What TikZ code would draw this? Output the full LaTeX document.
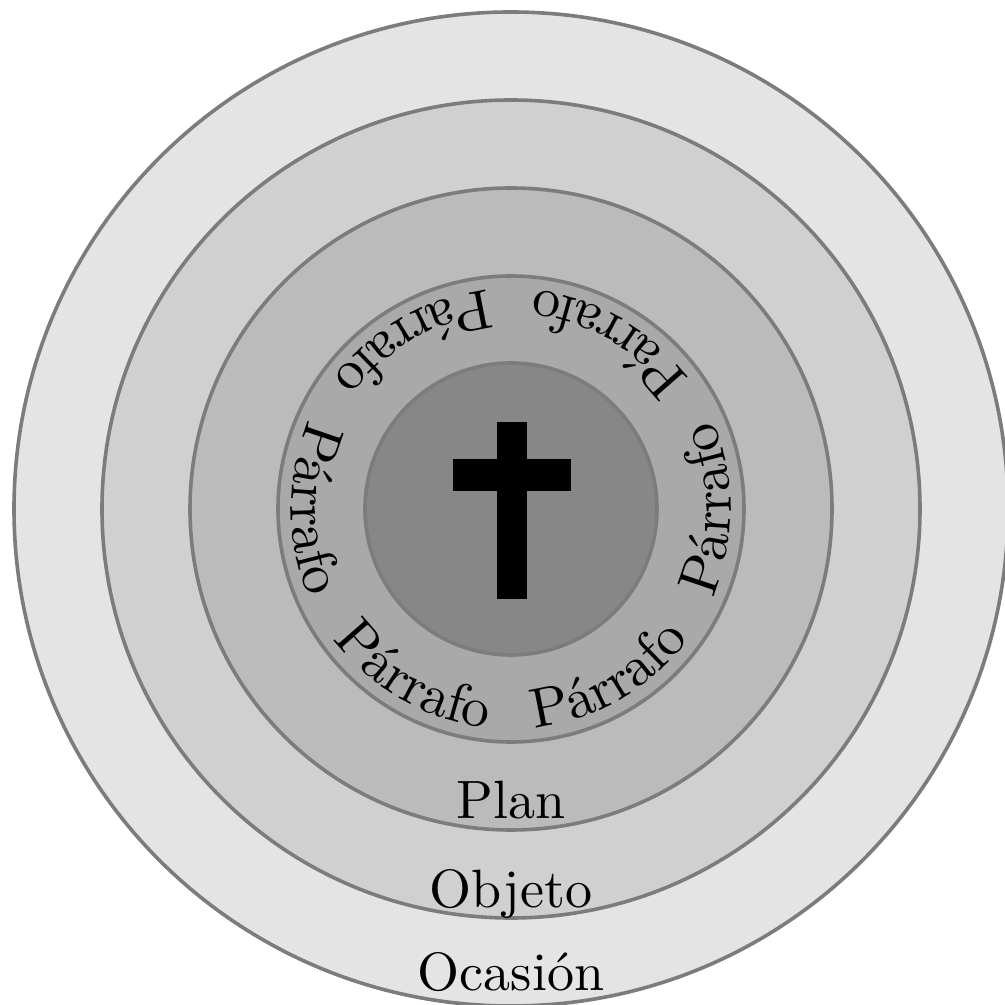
\documentclass[tikz,border=0pt]{standalone}
\usetikzlibrary{decorations.text}
\definecolor{ringline}{HTML}{7C7C7C}
\definecolor{ringA}{HTML}{E4E4E4}
\definecolor{ringB}{HTML}{D0D0D0}
\definecolor{ringC}{HTML}{BBBBBB}
\definecolor{ringD}{HTML}{A9A9A9}
\definecolor{ringE}{HTML}{878787}
\font\pfont="[lmroman10-regular]:+tlig;" at 28pt
\font\lfont="[lmroman10-regular]:+tlig;" at 27pt
\tikzset{
  ring/.style={circle, draw=ringline, line width=1.8pt, inner sep=0pt, outer sep=0pt},
  lbl/.style={font=\lfont, anchor=base, inner sep=0pt},
}
\begin{document}
\begin{tikzpicture}[x=0.5pt,y=0.5pt]
\useasboundingbox (-511,-496) rectangle (494,509);
\clip (-511,-496) rectangle (494,509);
\fill[white] (-511,-496) rectangle (494,509);
\node[ring, fill=ringA, minimum size=497pt] (ocasion) at (0,0) {};
\node[ring, fill=ringB, minimum size=409pt] (objeto) at (0,0) {};
\node[ring, fill=ringC, minimum size=321pt] (plan) at (0,0) {};
\node[ring, fill=ringD, minimum size=233pt] (parrafo) at (0,0) {};
\node[ring, fill=ringE, minimum size=146pt] (centro) at (0,0) {};
% cross
\fill[black] (-14.3,-90.3) rectangle (15.7,87.3);
\fill[black] (-58.3,18.3) rectangle (60,49.7);
% paragraphs
\foreach \a in {0,60,...,300}{
  \path[decorate, decoration={text along path, text align=center, text={|\pfont|Párrafo}}]
    ({\a-40}:110pt) arc[start angle={\a-40}, end angle={\a+40}, radius=110pt];
}
\node[lbl] (tplan) at (0,-309) {Plan};
\node[lbl] (tobjeto) at (0,-398) {Objeto};
\node[lbl] (tocasion) at (0,-481) {Ocasión};
\end{tikzpicture}
\end{document}
